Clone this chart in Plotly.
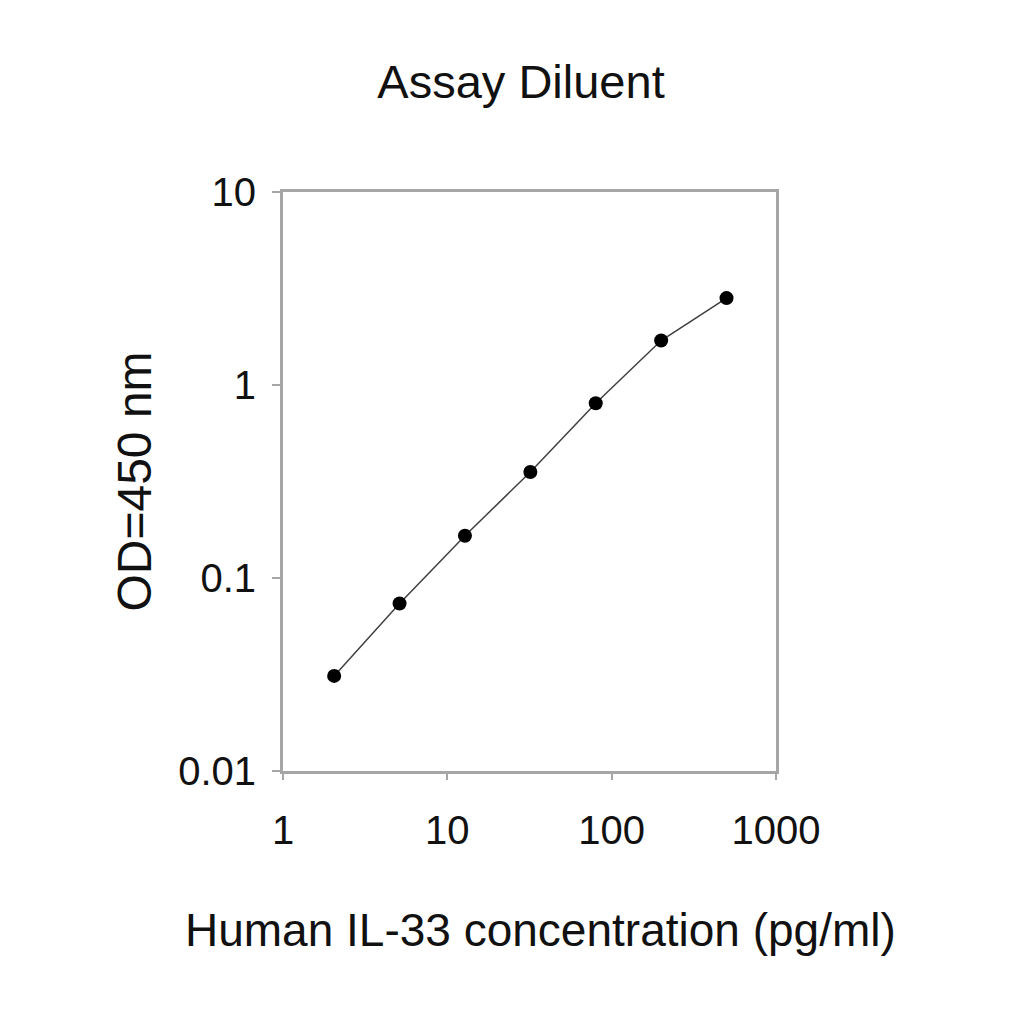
import plotly.graph_objects as go

concentration = [2.048, 5.12, 12.8, 32, 80, 200, 500]
od450 = [0.0311, 0.0738, 0.1655, 0.354, 0.805, 1.70, 2.82]

x_ticks = [1, 10, 100, 1000]
x_tick_labels = ["1", "10", "100", "1000"]
y_ticks = [0.01, 0.1, 1, 10]
y_tick_labels = ["0.01", "0.1", "1", "10"]

x_title = "Human IL-33 concentration (pg/ml)"
y_title = "OD=450 nm"
chart_title = "Assay Diluent"

FONT = "Liberation Sans, Arial, sans-serif"
AXIS_COLOR = "#a6a6a6"
TEXT = "#111111"

fig = go.Figure()
fig.add_trace(go.Scatter(
    x=concentration, y=od450, mode="lines+markers",
    line=dict(color="#404040", width=1.5),
    marker=dict(color="black", size=14),
    showlegend=False,
))

fig.update_layout(
    width=1024, height=1024,
    paper_bgcolor="white", plot_bgcolor="white",
    margin=dict(l=275, r=256, t=184, b=261, autoexpand=False),
    font=dict(family=FONT, color=TEXT),
    title=dict(text=chart_title, x=0.501, xref="container", xanchor="center",
               y=0.928, yref="container", yanchor="middle",
               font=dict(size=47, family=FONT, color=TEXT)),
    annotations=[dict(
        text=x_title, x=0.5195, y=0.0996, xref="paper", yref="paper",
        xanchor="center", yanchor="middle", showarrow=False,
        font=dict(size=46, family=FONT, color=TEXT),
    )],
)
# annotation coordinates above are in paper units; convert to container-based placement
fig.layout.annotations[0].update(xref="paper", yref="paper",
                                 x=(532 - 275) / (1024 - 275 - 256),
                                 y=-(922 - (1024 - 261)) / (1024 - 184 - 261))

fig.update_xaxes(
    type="log", range=[0, 3],
    tickvals=x_ticks, ticktext=x_tick_labels,
    tickfont=dict(size=40, family=FONT, color=TEXT),
    ticks="outside", ticklen=6, tickwidth=2, tickcolor=AXIS_COLOR,
    showline=True, linecolor=AXIS_COLOR, linewidth=3, mirror=True,
    showgrid=False, zeroline=False,
    ticklabelstandoff=16,
)
fig.update_yaxes(
    type="log", range=[-2, 1],
    tickvals=y_ticks, ticktext=y_tick_labels,
    tickfont=dict(size=40, family=FONT, color=TEXT),
    ticks="outside", ticklen=8, tickwidth=2, tickcolor=AXIS_COLOR,
    showline=True, linecolor=AXIS_COLOR, linewidth=3, mirror=True,
    showgrid=False, zeroline=False,
    ticklabelstandoff=8,
    title=dict(text=y_title, standoff=12,
               font=dict(size=48, family=FONT, color=TEXT)),
)

fig.write_html("out.html")
